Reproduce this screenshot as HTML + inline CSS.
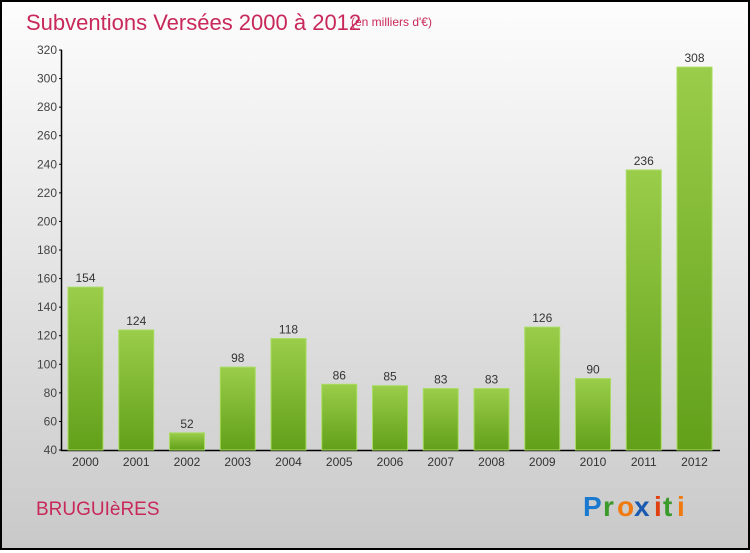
<!DOCTYPE html>
<html><head><meta charset="utf-8"><style>
body{margin:0;width:750px;height:550px;overflow:hidden}
#wrap{position:absolute;left:0;top:0;width:746px;height:546px;border:2px solid #000;background:linear-gradient(#fdfdfd,#c9c9c9)}
text{font-family:"Liberation Sans",sans-serif}
</style></head><body>
<div id="wrap">
<svg id="svg" width="746" height="546" viewBox="2 2 746 546">
<defs>
<linearGradient id="g" x1="0" y1="0" x2="0" y2="1"><stop offset="0" stop-color="#9acd4a"/><stop offset="1" stop-color="#62a01a"/></linearGradient>
</defs>
<text x="26" y="30" font-size="22" fill="#c8285a">Subventions Versées 2000 à 2012</text>
<text x="351" y="26" font-size="12" fill="#c8285a">(en milliers d'€)</text>
<text x="36" y="515" font-size="19" fill="#c8285a">BRUGUIèRES</text>
<g font-size="28" font-weight="bold">
<text x="583" y="516" fill="#1a7ad0">P</text><text x="603" y="516" fill="#3a9a2a">r</text><text x="617" y="516" fill="#f07a10">o</text><text x="634" y="516" fill="#1a5ab0">x</text><text x="654" y="516" fill="#e04010">i</text><text x="663" y="516" fill="#3a9a2a">t</text><text x="677" y="516" fill="#f07a10">i</text>
</g>
<g id="plot"></g>
</svg></div>
<script>
const categories=["2000","2001","2002","2003","2004","2005","2006","2007","2008","2009","2010","2011","2012"];
const values=[154,124,52,98,118,86,85,83,83,126,90,236,308];
const yTicks=[40,60,80,100,120,140,160,180,200,220,240,260,280,300,320];
const NS="http://www.w3.org/2000/svg";
const g=document.getElementById('plot');
const y=v=>450-(v-40)*400/280;
const x=i=>68+i*50.75;
function mk(t,a){const e=document.createElementNS(NS,t);for(const k in a)e.setAttribute(k,a[k]);g.appendChild(e);return e;}
let ax=mk('path',{d:'M61.5 50 V450.5 H720',stroke:'#000','stroke-width':1.5,fill:'none'});


yTicks.forEach(t=>{
 let l=mk('line',{x1:59,x2:62,y1:y(t),y2:y(t),stroke:'#000'});
 
 
 let tx=mk('text',{x:57,y:y(t)+4,'font-size':12,'text-anchor':'end',fill:'#444'});tx.textContent=t;
 
 
});
values.forEach((v,i)=>{
 let r=mk('rect',{x:x(i),y:y(v),width:35,height:450-y(v),fill:'url(#g)',stroke:'#a8dc60','stroke-width':1});
 
 
 let t=mk('text',{x:x(i)+17.5,y:y(v)-5,'font-size':12,'text-anchor':'middle',fill:'#333'});t.textContent=v;
 
 
 let c=mk('text',{x:x(i)+17.5,y:466,'font-size':12,'text-anchor':'middle',fill:'#333'});c.textContent=categories[i];
 
 
});
</script>
</body></html>
